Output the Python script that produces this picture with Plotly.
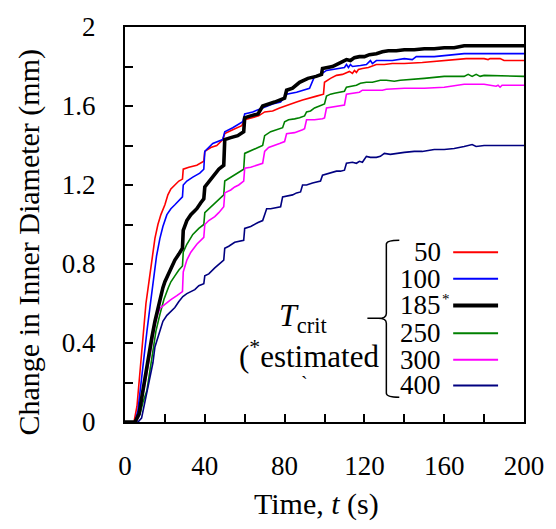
import plotly.graph_objects as go

FONT = "Liberation Serif"

# ---------------- data ----------------
t_50 = [0, 4.5, 6, 7.5, 9, 10.5, 12, 13.5, 15, 16.5, 18, 20, 21.5, 23, 25, 27, 28.8, 29.2, 32, 36, 39.5, 40, 43, 46, 49, 50, 54, 58.5, 60, 64, 67, 70, 74, 77.5, 80, 82.5, 86, 89, 92, 96, 99.5, 100, 103, 106, 109, 112.5, 114, 115, 116, 117, 119, 122, 126, 130, 134, 140, 149, 155, 160, 165, 171, 180, 182, 183, 188, 190, 200]
d_50 = [0, 0, 0.08, 0.25, 0.45, 0.6, 0.71, 0.82, 0.93, 1.0, 1.05, 1.1, 1.15, 1.18, 1.2, 1.22, 1.23, 1.28, 1.29, 1.30, 1.32, 1.37, 1.39, 1.40, 1.43, 1.46, 1.48, 1.50, 1.53, 1.54, 1.55, 1.57, 1.575, 1.59, 1.60, 1.61, 1.62, 1.63, 1.64, 1.65, 1.66, 1.72, 1.74, 1.755, 1.76, 1.775, 1.765, 1.78, 1.77, 1.785, 1.79, 1.795, 1.81, 1.81, 1.815, 1.815, 1.82, 1.825, 1.83, 1.835, 1.84, 1.84, 1.835, 1.84, 1.84, 1.83, 1.83]

t_100 = [0, 5, 6.5, 8, 9.5, 11, 12.5, 14, 15.8, 17.5, 19, 21, 23, 25, 27, 28.8, 29.2, 31, 34, 37.5, 39.5, 40, 44, 49, 50, 54, 59, 60, 64, 69, 74, 78, 81, 86, 90, 92.5, 95, 98, 101, 106, 110, 111, 112, 113, 114, 118, 121, 123, 124, 126, 134, 140, 144, 146, 150, 155, 160, 168, 170, 200]
d_100 = [0, 0, 0.06, 0.2, 0.33, 0.46, 0.58, 0.7, 0.84, 0.93, 0.99, 1.05, 1.08, 1.1, 1.12, 1.14, 1.2, 1.22, 1.24, 1.26, 1.28, 1.37, 1.41, 1.43, 1.47, 1.49, 1.52, 1.56, 1.57, 1.59, 1.61, 1.62, 1.66, 1.67, 1.68, 1.69, 1.75, 1.76, 1.78, 1.79, 1.795, 1.81, 1.795, 1.81, 1.80, 1.805, 1.81, 1.83, 1.815, 1.83, 1.83, 1.84, 1.835, 1.85, 1.85, 1.85, 1.855, 1.86, 1.865, 1.865]

t_185 = [0, 5, 7, 9, 10.5, 11.7, 13.5, 15, 16.5, 17.5, 19, 20, 21.7, 23.5, 25, 27, 28.8, 29.2, 31, 33, 36, 38, 39.5, 40, 42.5, 45, 47, 49.5, 50, 53, 56.5, 59.5, 60, 63, 66.7, 69, 72.5, 75, 77.5, 80, 81, 84, 87.5, 90, 91.7, 95.8, 98.5, 99, 102, 104, 106, 108, 111, 113, 115, 117.5, 120, 122.5, 126, 129, 132, 136, 140, 145, 150, 155, 160, 165, 170, 200]
d_185 = [0, 0, 0.04, 0.16, 0.26, 0.34, 0.43, 0.51, 0.58, 0.63, 0.68, 0.71, 0.75, 0.79, 0.82, 0.85, 0.88, 0.97, 1.02, 1.05, 1.08, 1.11, 1.13, 1.19, 1.22, 1.25, 1.28, 1.30, 1.43, 1.44, 1.45, 1.47, 1.54, 1.55, 1.56, 1.60, 1.61, 1.62, 1.63, 1.64, 1.68, 1.69, 1.72, 1.73, 1.74, 1.75, 1.76, 1.79, 1.795, 1.80, 1.81, 1.82, 1.835, 1.83, 1.845, 1.85, 1.85, 1.86, 1.865, 1.875, 1.88, 1.88, 1.885, 1.885, 1.89, 1.89, 1.895, 1.895, 1.905, 1.905]

t_250 = [0, 5.5, 7.5, 9, 11, 12.5, 14, 15.5, 17.5, 19.5, 21.7, 23, 25, 27, 28.8, 29.2, 31, 34, 37, 39.5, 40, 42, 45, 47, 49.5, 50, 53, 56, 59.5, 60, 63, 66.7, 69, 70, 73, 76, 79, 80, 82, 85, 87.5, 90, 91, 93, 95, 97.5, 100, 101, 103, 105, 107.5, 110, 111, 113, 116, 118, 121, 124, 128, 131, 135, 138, 145, 150, 160, 170, 172, 174, 176, 178, 180, 200]
d_250 = [0, 0, 0.04, 0.1, 0.16, 0.26, 0.38, 0.46, 0.545, 0.62, 0.68, 0.71, 0.74, 0.77, 0.79, 0.86, 0.9, 0.95, 0.98, 1.0, 1.06, 1.08, 1.11, 1.13, 1.15, 1.22, 1.24, 1.26, 1.28, 1.36, 1.375, 1.39, 1.40, 1.45, 1.47, 1.48, 1.49, 1.52, 1.53, 1.535, 1.54, 1.55, 1.57, 1.575, 1.59, 1.60, 1.61, 1.65, 1.66, 1.665, 1.67, 1.675, 1.695, 1.70, 1.705, 1.715, 1.72, 1.72, 1.73, 1.73, 1.725, 1.73, 1.735, 1.74, 1.75, 1.75, 1.76, 1.75, 1.76, 1.75, 1.755, 1.75]

t_300 = [0, 5.5, 7, 9, 10.5, 11.7, 13.5, 15, 16.5, 17.5, 20, 23, 26, 28.8, 29.2, 31, 33, 36, 39.5, 40, 42, 45, 47, 49.5, 50, 53, 55, 57, 59.5, 60, 63, 66.7, 69, 70, 72, 77.5, 80, 81, 85, 89, 90, 91, 95, 99, 100, 101, 104, 107.5, 110, 111, 115, 117.5, 119, 125, 129, 131, 140, 150, 160, 170, 180, 186, 187, 188, 189, 200]
d_300 = [0, 0, 0.03, 0.13, 0.22, 0.29, 0.40, 0.49, 0.55, 0.575, 0.595, 0.62, 0.64, 0.66, 0.76, 0.82, 0.86, 0.90, 0.935, 1.0, 1.02, 1.04, 1.06, 1.09, 1.16, 1.175, 1.19, 1.20, 1.22, 1.285, 1.29, 1.30, 1.31, 1.37, 1.39, 1.41, 1.42, 1.46, 1.465, 1.48, 1.485, 1.53, 1.53, 1.535, 1.54, 1.59, 1.595, 1.60, 1.605, 1.66, 1.665, 1.67, 1.68, 1.68, 1.68, 1.685, 1.69, 1.69, 1.695, 1.71, 1.71, 1.70, 1.705, 1.695, 1.705, 1.705]

t_400 = [0, 6.5, 8.3, 10, 11, 12.5, 14, 15, 17, 19, 21, 23, 25, 27, 29, 31, 33, 35, 37, 39.5, 40, 42, 45, 47, 49.5, 50, 52, 55, 57, 59.5, 60, 63, 66.7, 69, 70, 71, 73, 75.8, 78, 79, 82, 84, 86, 88, 89, 91, 94, 96, 98, 99, 101, 104, 106, 108, 110, 111, 114, 116, 117.5, 119, 120, 121, 123, 126, 128, 130, 133, 136, 140, 145, 149, 152, 155, 160, 165, 170, 172, 174, 176, 180, 200]
d_400 = [0, 0, 0.02, 0.1, 0.16, 0.22, 0.3, 0.38, 0.45, 0.51, 0.54, 0.56, 0.58, 0.61, 0.635, 0.65, 0.66, 0.67, 0.69, 0.70, 0.74, 0.75, 0.78, 0.80, 0.82, 0.88, 0.89, 0.91, 0.915, 0.92, 0.98, 0.99, 1.01, 1.02, 1.05, 1.08, 1.08, 1.085, 1.09, 1.14, 1.145, 1.15, 1.16, 1.165, 1.20, 1.20, 1.21, 1.215, 1.22, 1.25, 1.255, 1.265, 1.27, 1.27, 1.275, 1.31, 1.315, 1.31, 1.32, 1.315, 1.33, 1.345, 1.34, 1.34, 1.345, 1.36, 1.355, 1.36, 1.365, 1.37, 1.37, 1.375, 1.38, 1.38, 1.385, 1.395, 1.40, 1.405, 1.395, 1.40, 1.40]

series_labels = ["50", "100", "185", "250", "300", "400"]
series_colors = ["#ff0000", "#0000ff", "#000000", "#008000", "#ff00ff", "#000080"]
series_widths = [1.6, 1.6, 3.6, 1.6, 1.6, 1.6]
series_t = [t_50, t_100, t_185, t_250, t_300, t_400]
series_d = [d_50, d_100, d_185, d_250, d_300, d_400]

x_ticks = [0, 40, 80, 120, 160, 200]
y_ticks = [0, 0.4, 0.8, 1.2, 1.6, 2]
y_tick_text = ["0", "0.4", "0.8", "1.2", "1.6", "2"]

# legend rows (data coordinates)
legend_y = [0.86, 0.725, 0.59, 0.45, 0.315, 0.185]

fig = go.Figure()
draw_order = [0, 1, 3, 4, 5, 2]
for i in draw_order:
    fig.add_trace(go.Scatter(x=series_t[i], y=series_d[i], mode="lines",
                             line=dict(color=series_colors[i], width=series_widths[i]),
                             showlegend=False, hoverinfo="skip"))

shapes = []
anns = []
for i, lab in enumerate(series_labels):
    shapes.append(dict(type="line", xref="x", yref="y", x0=164.5, x1=187, y0=legend_y[i], y1=legend_y[i],
                       line=dict(color=series_colors[i], width=4 if i == 2 else 2)))
    anns.append(dict(x=159, y=legend_y[i], xref="x", yref="y", text=lab, showarrow=False,
                     xanchor="right", yanchor="middle", borderpad=0,
                     font=dict(family=FONT, size=27, color="black")))
anns.append(dict(x=158.2, y=legend_y[2] + 0.035, xref="x", yref="y", text="*", showarrow=False,
                 xanchor="left", yanchor="middle", borderpad=0,
                 font=dict(family=FONT, size=15, color="black")))

# brace
shapes.append(dict(type="path", xref="x", yref="y",
                   path="M 137.5 0.92 Q 131 0.92 131 0.9 L 131 0.55 Q 131 0.525 127 0.525 L 121.5 0.525 "
                        "M 127 0.525 Q 131 0.525 131 0.5 L 131 0.145 Q 131 0.125 137.5 0.125",
                   line=dict(color="black", width=1.5)))

anns.append(dict(x=89, y=0.53, xref="x", yref="y", text="<i>T</i><sub>crit</sub>", showarrow=False,
                 xanchor="center", yanchor="middle", font=dict(family=FONT, size=32, color="black")))
anns.append(dict(x=92, y=0.34, xref="x", yref="y", text="(<sup>*</sup>estimated", showarrow=False,
                 xanchor="center", yanchor="middle", font=dict(family=FONT, size=31, color="black")))
anns.append(dict(x=90, y=0.19, xref="x", yref="y", text="`", showarrow=False,
                 xanchor="center", yanchor="middle", font=dict(family=FONT, size=20, color="black")))

# axis titles
anns.append(dict(x=(317 - 125) / 400, y=(422 - 505) / 400, xref="paper", yref="paper",
                 text="Time, <i>t</i> (s)", showarrow=False, xanchor="center", yanchor="middle",
                 font=dict(family=FONT, size=30, color="black")))
anns.append(dict(x=(29 - 125) / 400, y=(422 - 240) / 400, xref="paper", yref="paper",
                 text="Change in Inner Diameter (mm)", showarrow=False, textangle=-90,
                 xanchor="center", yanchor="middle", font=dict(family=FONT, size=30, color="black")))

axis_common = dict(showgrid=False, zeroline=False, showline=True, linecolor="black", linewidth=2,
                   mirror=True, ticks="inside", ticklen=8, tickwidth=1.5, tickcolor="black",
                   tickfont=dict(family=FONT, size=27, color="black"))

fig.update_layout(
    width=556, height=529,
    margin=dict(l=125, r=31, t=22, b=107),
    paper_bgcolor="white", plot_bgcolor="white",
    xaxis=dict(range=[0, 200], tickvals=x_ticks, ticktext=[str(v) for v in x_ticks],
               minor=dict(tickvals=[20, 60, 100, 140, 180], ticks="inside", ticklen=8, tickwidth=1.5, tickcolor="black"),
               ticklabelstandoff=19, **axis_common),
    yaxis=dict(range=[0, 2], tickvals=y_ticks, ticktext=y_tick_text,
               minor=dict(tickvals=[0.2, 0.6, 1.0, 1.4, 1.8], ticks="inside", ticklen=8, tickwidth=1.5, tickcolor="black"),
               ticklabelstandoff=22, **axis_common),
    shapes=shapes, annotations=anns,
    font=dict(family=FONT, color="black"),
)

fig.write_html("out.html", config={"displayModeBar": False},
               post_script="document.body.style.margin='0';document.body.style.overflow='hidden';")
